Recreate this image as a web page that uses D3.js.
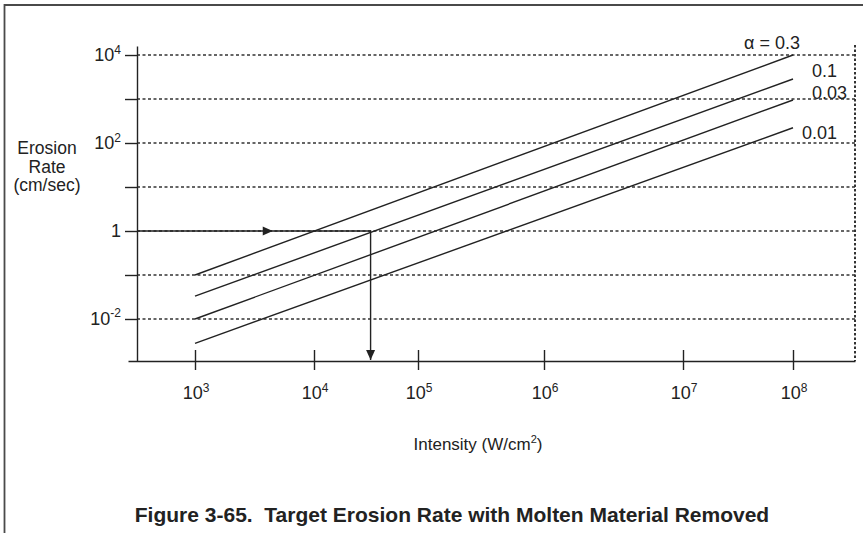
<!DOCTYPE html>
<html><head><meta charset="utf-8">
<script src="https://cdn.jsdelivr.net/npm/d3@7"></script>
<style>
body{margin:0;background:#fff}
svg text{font-family:"Liberation Sans",Arial,Helvetica,sans-serif;fill:#222}
</style></head>
<body><svg id="chart" width="863" height="533"></svg>
<script>
// ---- data ----
const alphaLabels = ["\u03b1 = 0.3", "0.1", "0.03", "0.01"];
const lineStartIntensity = 1e3;
const lineEndIntensity = 1e8;
const rateAtStart = [0.1, 0.033, 0.01, 0.0028];
const rateAtEnd = [1e4, 2850, 950, 222];
const xTickValues = [1e3, 1e4, 1e5, 1e6, 1e7, 1e8];
const xTickExponents = ["3", "4", "5", "6", "7", "8"];
const yTickValues = [1e-2, 1e-1, 1, 1e1, 1e2, 1e3, 1e4];
const yLabelValues = [1e4, 1e2, 1, 1e-2];
const yLabelBase = ["10", "10", "1", "10"];
const yLabelExp = ["4", "2", "", "-2"];
const exampleRate = 1;          // read-across example
const exampleIntensity = 3.5e4; // read-down result
const arrowMarkIntensity = 4500;

// ---- layout ----
const svg = d3.select("#chart");
const axisX = 137, axisY = 361, plotRight = 855, plotTop = 46;
const ink = "#222";

const x = d3.scaleLog()
  .domain([10 ** 2.44, 1e3, 1e4, 1e5, 1e6, 1e7, 1e8, 10 ** 8.55])
  .range([128, 195, 314, 418, 544, 683, 793, plotRight]);
const y = d3.scaleLog()
  .domain([10 ** -2.955, 10 ** 4.205])
  .range([axisY, plotTop]);

// frame
svg.append("path").attr("d", "M4.5,533V5H863")
  .attr("fill", "none").attr("stroke", "#4a4a4a").attr("stroke-width", 1.8);

// dotted grid
svg.append("g").selectAll("line").data(yTickValues).join("line")
  .attr("x1", axisX).attr("x2", plotRight)
  .attr("y1", d => y(d)).attr("y2", d => y(d))
  .attr("stroke", "#333").attr("stroke-width", 1.3)
  .attr("stroke-dasharray", "3,2.5");
svg.append("line")
  .attr("x1", plotRight).attr("x2", plotRight)
  .attr("y1", plotTop - 1).attr("y2", axisY)
  .attr("stroke", "#333").attr("stroke-width", 2)
  .attr("stroke-dasharray", "2.5,2");

// axes
const gx = svg.append("g").attr("transform", `translate(0,${axisY})`)
  .call(d3.axisBottom(x).tickValues(xTickValues).tickSize(9).tickSizeOuter(0).tickFormat(""));
gx.selectAll(".tick line").attr("y1", -11);
const gy = svg.append("g").attr("transform", `translate(${axisX},0)`)
  .call(d3.axisLeft(y).tickValues(yTickValues).tickSize(12).tickSizeOuter(0).tickFormat(""));
svg.selectAll(".domain, .tick line").attr("stroke", ink).attr("stroke-width", 1.4);

// x tick labels
const xl = svg.append("g").selectAll("text").data(xTickValues).join("text")
  .attr("x", d => x(d) + 1).attr("y", 399)
  .attr("text-anchor", "middle").attr("font-size", 18);
xl.append("tspan").text("10");
xl.append("tspan").attr("font-size", 12).attr("dy", -7.5).text((d, i) => xTickExponents[i]);

// y tick labels
const yl = svg.append("g").selectAll("text").data(yLabelValues).join("text")
  .attr("x", 121).attr("y", d => y(d) + 6)
  .attr("text-anchor", "end").attr("font-size", 18);
yl.append("tspan").text((d, i) => yLabelBase[i]);
yl.append("tspan").attr("font-size", 12).attr("dy", -7.5).text((d, i) => yLabelExp[i]);

// axis titles
const yt = svg.append("text").attr("text-anchor", "middle").attr("font-size", 17.5);
["Erosion", "Rate", "(cm/sec)"].forEach((s, i) =>
  yt.append("tspan").attr("x", 47).attr("y", 154 + i * 18.5).text(s));
const xt = svg.append("text").attr("x", 478).attr("y", 450)
  .attr("text-anchor", "middle").attr("font-size", 17);
xt.append("tspan").text("Intensity (W/cm");
xt.append("tspan").attr("font-size", 11).attr("dy", -7).text("2");
xt.append("tspan").attr("dy", 7).text(")");

// erosion-rate lines
const lines = alphaLabels.map((a, i) => ({
  label: a,
  pts: [[lineStartIntensity, rateAtStart[i]], [lineEndIntensity, rateAtEnd[i]]]
}));
const lineGen = d3.line().x(d => x(d[0])).y(d => y(d[1]));
svg.append("g").selectAll("path").data(lines).join("path")
  .attr("d", d => lineGen(d.pts))
  .attr("fill", "none").attr("stroke", ink).attr("stroke-width", 1.4);

// line labels (offset from line end)
const labelOffsets = [[7, -6, "end"], [19, -2, "start"], [19, -1, "start"], [9, 11, "start"]];
svg.append("g").selectAll("text").data(lines).join("text")
  .attr("x", (d, i) => x(lineEndIntensity) + labelOffsets[i][0])
  .attr("y", (d, i) => y(d.pts[1][1]) + labelOffsets[i][1])
  .attr("text-anchor", (d, i) => labelOffsets[i][2])
  .attr("font-size", 18)
  .text(d => d.label);

// example arrows
const cx = x(exampleIntensity), cy = y(exampleRate);
svg.append("path")
  .attr("d", `M${axisX},${cy}H${cx}V${axisY - 1}`)
  .attr("fill", "none").attr("stroke", ink).attr("stroke-width", 1.4);
const hx = x(arrowMarkIntensity);
svg.append("path")
  .attr("d", `M${hx},${cy}l-10,-4.5v9z`).attr("fill", ink);
svg.append("path")
  .attr("d", `M${cx},${axisY - 1}l-4.5,-10h9z`).attr("fill", ink);

// caption
svg.append("text").attr("x", 452).attr("y", 522)
  .attr("text-anchor", "middle").attr("font-size", 21).attr("font-weight", "bold")
  .style("white-space", "pre")
  .text("Figure 3-65.  Target Erosion Rate with Molten Material Removed");
</script>
</body></html>
